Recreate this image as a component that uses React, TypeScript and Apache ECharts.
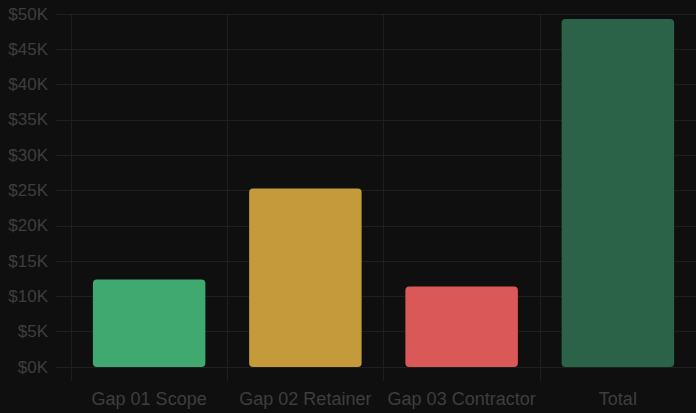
import React, { useEffect, useRef } from "react";
import * as echarts from "echarts";

const categories = ["Gap 01 Scope", "Gap 02 Retainer", "Gap 03 Contractor", "Total"];
const values = [12400, 25300, 11400, 49300];
const barColors = ["#3fa970", "#c49a3a", "#db5858", "#2a6347"];
const yTicks = { min: 0, max: 50000, interval: 5000 };

export default function App() {
  const ref = useRef<HTMLDivElement>(null);
  useEffect(() => {
    document.body.style.margin = "0";
    document.body.style.background = "#0f0f0f";
    const chart = echarts.init(ref.current!, undefined, { renderer: "svg" });
    const font = "'Liberation Sans', Arial, Helvetica, sans-serif";
    const gridColor = "#1f1f1f";
    const textColor = "#3e3e3e";
    chart.setOption({
      animation: false,
      backgroundColor: "#0f0f0f",
      grid: { left: 71, right: 0, top: 14, bottom: 46, containLabel: false },
      xAxis: {
        type: "category",
        data: categories,
        boundaryGap: true,
        axisLine: { show: true, lineStyle: { color: gridColor } },
        axisTick: { show: true, interval: 0, length: 14, lineStyle: { color: gridColor } },
        splitLine: { show: true, interval: 0, lineStyle: { color: gridColor, width: 1 } },
        axisLabel: { interval: 0, color: textColor, fontSize: 18, fontFamily: font, margin: 23 },
      },
      yAxis: {
        type: "value",
        min: yTicks.min,
        max: yTicks.max,
        interval: yTicks.interval,
        axisLine: { show: true, lineStyle: { color: gridColor } },
        axisTick: { show: true, length: 15, lineStyle: { color: gridColor } },
        splitLine: { show: true, lineStyle: { color: gridColor, width: 1 } },
        axisLabel: {
          color: textColor,
          fontSize: 17,
          fontFamily: font,
          margin: 23,
          formatter: (v: number) => `$${v / 1000}K`,
        },
      },
      series: [
        {
          type: "bar",
          barWidth: "72%",
          data: values.map((v, i) => ({
            value: v,
            itemStyle: { color: barColors[i], borderRadius: 4 },
          })),
        },
      ],
    });
    return () => chart.dispose();
  }, []);
  return <div ref={ref} style={{ width: 696, height: 413 }} />;
}
